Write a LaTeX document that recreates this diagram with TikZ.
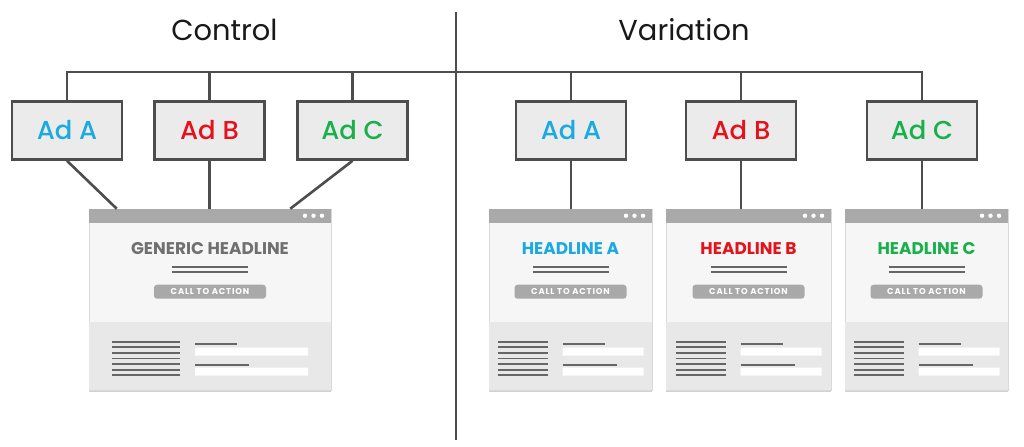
\documentclass[tikz,border=0pt]{standalone}
\usepackage{fontspec}
\setmainfont{Poppins}
\newfontfamily\adfont{Poppins Medium}
\usetikzlibrary{positioning,calc,shadows}

\definecolor{inkgray}{HTML}{4D4D4D}
\definecolor{adfill}{HTML}{EBEBEB}
\definecolor{adblue}{HTML}{1BA9E1}
\definecolor{adred}{HTML}{E3121B}
\definecolor{adgreen}{HTML}{19B04B}
\definecolor{barfill}{HTML}{A9A9A9}
\definecolor{pagetop}{HTML}{F6F6F6}
\definecolor{pagelow}{HTML}{E8E8E8}
\definecolor{ruleink}{HTML}{666666}
\definecolor{headink}{HTML}{707070}

% one landing page: name, centre x, width, content width, list length, headline, colour
\newcommand\webpage[7]{%
  \node[page,minimum width=#3bp] (#1) at (#2,-299.5) {};
  \begin{scope}[shift={(#1.north)}]
    \pgfmathsetmacro\hw{#3/2}
    \pgfmathsetmacro\hc{#4/2}
    \fill[pagelow] (-\hw,-113) rectangle (\hw,-181);
    \fill[barfill] (-\hw,0) rectangle (\hw,-14);
    \foreach \d in {0,1,2}
      \fill[white] (\hw-9-\d*8.5,-7) circle (2.2);
    \node[headline,text=#7] (#1head) at (0,-40) {#6};
    \draw[rule] (-38,-58.5) -- (38,-58.5) (-38,-63.5) -- (38,-63.5);
    \node[cta] (#1cta) at (0,-83) {CALL TO ACTION};
    \foreach \k in {0,...,6}
      \draw[rule] (-\hc,-133-\k*5.6) -- ++(#5,0);
    \draw[rule] (-\hc+#5+15,-135) -- ++(42,0)
      (-\hc+#5+15,-156) -- ++(54,0);
    \fill[white] (-\hc+#5+15,-139) rectangle (\hc,-147)
      (-\hc+#5+15,-159) rectangle (\hc,-167);
  \end{scope}}

\begin{document}
\begin{tikzpicture}[
  x=1bp,
  y=1bp,
  wire/.style={draw=inkgray,line width=2.6bp},
  title/.style={font=\fontsize{29}{29}\selectfont,text=black!90},
  adbox/.style={draw=inkgray,line width=2.6bp,fill=adfill,
    minimum width=110bp,minimum height=58bp,inner sep=0pt,
    font=\adfont\fontsize{26}{26}\selectfont,
    drop shadow={shadow xshift=1bp,shadow yshift=-1.5bp,opacity=.3}},
  page/.style={fill=pagetop,draw=black!15,line width=.5bp,
    minimum height=181bp,inner sep=0pt,
    drop shadow={shadow xshift=0bp,shadow yshift=-1.5bp,opacity=.35}},
  headline/.style={font=\fontsize{17}{17}\selectfont\bfseries,inner sep=0pt},
  cta/.style={fill=barfill,rounded corners=3bp,minimum width=112bp,
    minimum height=14bp,inner sep=0pt,text=white,
    font=\fontsize{8.5}{8.5}\selectfont\bfseries\addfontfeature{LetterSpace=10}},
  rule/.style={draw=ruleink,line width=1.7bp}
]
\useasboundingbox[fill=white] (0,0) rectangle (1024,-447);

% headings and divider
\node[title] (control) at (224.5,-30) {Control};
\node[title] (variation) at (684,-30) {Variation};
\coordinate (divtop) at (456,-12);
\coordinate (divbot) at (456,-440);
\coordinate (bus) at (0,-72);

% landing pages
\webpage{ctlpage}{210}{242}{196}{68}{GENERIC HEADLINE}{headink}
\webpage{varApage}{570.5}{163}{146}{50}{HEADLINE A}{adblue}
\webpage{varBpage}{748.5}{165}{146}{50}{HEADLINE B}{adred}
\webpage{varCpage}{926.5}{163}{146}{50}{HEADLINE C}{adgreen}

% ads
\node[adbox,text=adblue] (ctlA) at (67,-130.5) {Ad A};
\node[adbox,text=adred] (ctlB) at (209.5,-130.5) {Ad B};
\node[adbox,text=adgreen] (ctlC) at (352.5,-130.5) {Ad C};
\node[adbox,text=adblue] (varA) at (571,-130.5) {Ad A};
\node[adbox,text=adred] (varB) at (741,-130.5) {Ad B};
\node[adbox,text=adgreen] (varC) at (922,-130.5) {Ad C};

\draw[wire] (divtop) -- (divbot);
\draw[wire] (ctlA.north) |- (varC.north |- bus) -- (varC.north);
\foreach \n in {ctlB,ctlC,varA,varB}
  \draw[wire] (\n.north) -- (\n.north |- bus);

\draw[wire] (ctlA.south) -- ($(ctlpage.north west)+(28,0)$);
\draw[wire] (ctlB.south) -- (ctlB.south |- ctlpage.north);
\draw[wire] (ctlC.south) -- ($(ctlpage.north east)+(-41,0)$);
\foreach \n in {varA,varB,varC}
  \draw[wire] (\n.south) -- (\n.south |- \n page.north);

\end{tikzpicture}
\end{document}
